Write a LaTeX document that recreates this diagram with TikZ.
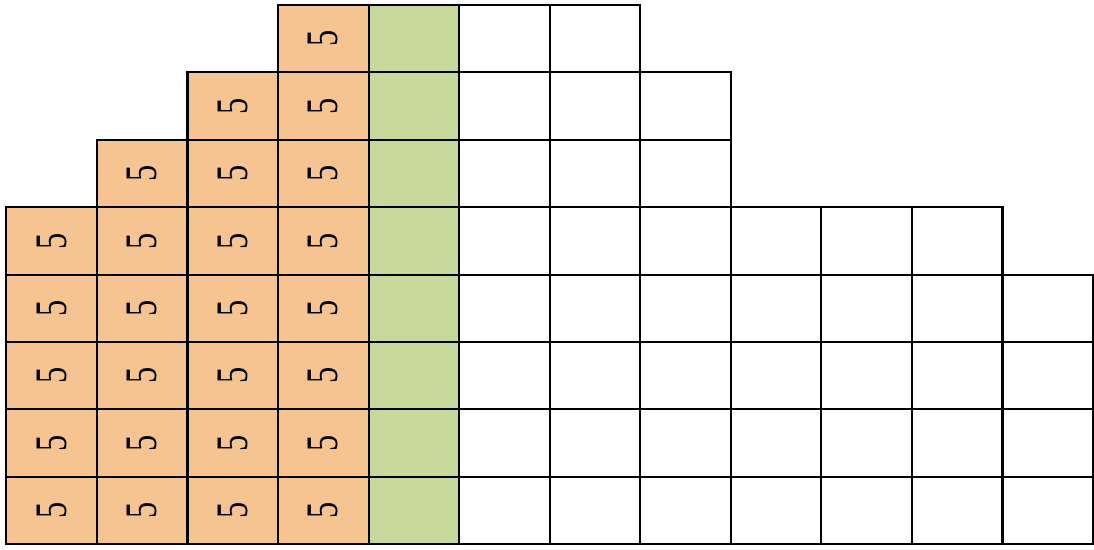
\documentclass[tikz,border=0pt]{standalone}
\usepackage{fontspec}
\setmainfont{Liberation Serif}
\definecolor{cellorange}{RGB}{245,196,144}
\definecolor{cellgreen}{RGB}{200,216,155}
\tikzset{
  cellbox/.style={minimum width=90.6pt, minimum height=67.4pt, inner sep=0pt, outer sep=0pt, anchor=north west},
  orangecell/.style={cellbox, fill=cellorange},
  greencell/.style={cellbox, fill=cellgreen},
  whitecell/.style={cellbox, fill=white},
  gridline/.style={draw=black, line width=2.1pt},
  fivelabel/.style={rotate=90, font=\fontsize{45}{45}\selectfont, inner sep=0pt}
}
\begin{document}
\begin{tikzpicture}[x=1pt,y=-1pt]
\useasboundingbox (0,0) rectangle (1094,549);
% fills
\foreach \r/\s/\e in {0/3/6,1/2/7,2/1/7,3/0/10,4/0/11,5/0/11,6/0/11,7/0/11}{
  \foreach \c in {\s,...,\e}{
    \pgfmathsetmacro{\xx}{6.4+90.55*\c}
    \pgfmathsetmacro{\yy}{5+67.4*\r}
    \ifnum\c<4
      \node[orangecell] (c-\r-\c) at (\xx,\yy) {};
    \else\ifnum\c=4
      \node[greencell] (c-\r-\c) at (\xx,\yy) {};
    \else
      \node[whitecell] (c-\r-\c) at (\xx,\yy) {};
    \fi\fi
  }
}
% borders and labels
\foreach \r/\s/\e in {0/3/6,1/2/7,2/1/7,3/0/10,4/0/11,5/0/11,6/0/11,7/0/11}{
  \foreach \c in {\s,...,\e}{
    \draw[gridline] (c-\r-\c.north west) rectangle (c-\r-\c.south east);
    \ifnum\c<4
      \node[fivelabel] (t-\r-\c) at (c-\r-\c.center) {\scalebox{0.72}[1]{5}};
    \fi
  }
}
\end{tikzpicture}
\end{document}
